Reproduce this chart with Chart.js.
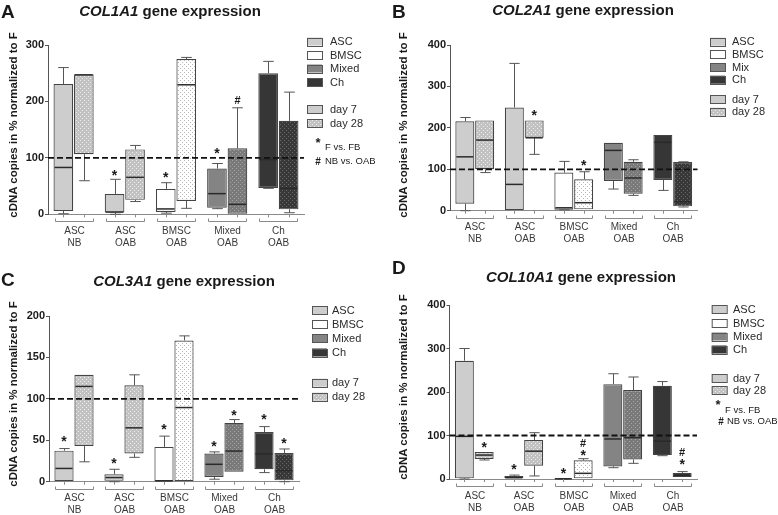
<!DOCTYPE html>
<html>
<head>
<meta charset="utf-8">
<script src="https://cdn.jsdelivr.net/npm/chart.js@4.4.1/dist/chart.umd.min.js"></script>
<style>
html, body { margin: 0; padding: 0; background: #fff; }
#fig { position: relative; width: 778px; height: 515px; overflow: hidden; font-family: "Liberation Sans", Arial, sans-serif; color: #1a1a1a; }
canvas { position: absolute; }
.letter { position: absolute; font-weight: bold; font-size: 19px; transform: translateY(-50%); }
.title { position: absolute; font-weight: bold; font-size: 15px; white-space: nowrap; transform: translate(-50%, -50%); }
.ytitle { position: absolute; font-weight: bold; font-size: 11.5px; white-space: nowrap; transform: translate(-50%, -50%) rotate(-90deg); }
</style>
</head>
<body>
<div id="fig">
  <canvas id="cA" width="389" height="257" style="left:0;top:0"></canvas>
  <canvas id="cB" width="389" height="257" style="left:389px;top:0"></canvas>
  <canvas id="cC" width="389" height="258" style="left:0;top:257px"></canvas>
  <canvas id="cD" width="389" height="258" style="left:389px;top:257px"></canvas>

  <div class="letter" style="left:1px;top:12px">A</div>
  <div class="title" style="left:170px;top:10px"><i>COL1A1</i> gene expression</div>
  <div class="ytitle" style="left:13px;top:125px">cDNA copies in % normalized to F</div>

  <div class="letter" style="left:392px;top:12px">B</div>
  <div class="title" style="left:583px;top:9px"><i>COL2A1</i> gene expression</div>
  <div class="ytitle" style="left:403px;top:125px">cDNA copies in % normalized to F</div>

  <div class="letter" style="left:1px;top:280px">C</div>
  <div class="title" style="left:184px;top:280px"><i>COL3A1</i> gene expression</div>
  <div class="ytitle" style="left:13px;top:394px">cDNA copies in % normalized to F</div>

  <div class="letter" style="left:392px;top:268px">D</div>
  <div class="title" style="left:581px;top:276px"><i>COL10A1</i> gene expression</div>
  <div class="ytitle" style="left:403px;top:387px">cDNA copies in % normalized to F</div>
</div>
<script>
// Gruppen unter der x-Achse
const groupTop = ['ASC', 'ASC', 'BMSC', 'Mixed', 'Ch'];
const groupBottom = ['NB', 'OAB', 'OAB', 'OAB', 'OAB'];
const cellNames = ['ASC', 'BMSC', 'Mixed', 'Ch'];
const cellNamesB = ['ASC', 'BMSC', 'Mix', 'Ch'];
const dayNames = ['day 7', 'day 28'];
const sigNames = ['F vs. FB', 'NB vs. OAB'];

// Boxplot-Werte je Gruppe: [min, q1, median, q3, max]
const col1_d7 = [[1, 6, 83, 231, 260], [0, 3, 4, 36, 62], [2, 4, 9.5, 45, 56], [10, 11.7, 36.6, 81, 90], [46, 46.7, 97, 250, 271]];
const col1_d28 = [[59.5, 106.5, 247, 248, 248], [22.6, 25.6, 65.5, 115, 122], [10.6, 23.6, 229.5, 275, 278], [0, 0, 17.7, 117, 188.7], [2.8, 8.8, 46, 165.6, 216.5]];
const col2_d7 = [[0, 17, 130, 216, 225], [0, 0, 63.5, 249, 355.6], [2, 2.4, 7, 92, 119], [52.3, 71.6, 145.6, 164, 164], [49, 74, 165, 183, 183]];
const col2_d28 = [[92, 100, 170.5, 218, 218], [136, 176, 176, 218, 218], [3.2, 3.2, 19.3, 76, 94], [37, 41, 79, 118, 123], [9, 10.5, 21.7, 117.5, 118]];
const col3_d7 = [[0, 0, 16, 37.5, 40], [0, 1, 5, 9, 15], [0, 0, 1, 42, 55], [3, 5.6, 21, 34, 36], [11, 15, 33.5, 60, 66.5]];
const col3_d28 = [[24, 43, 115, 129, 129], [29.4, 34, 65, 116.5, 129], [0, 0, 89.5, 170.5, 176], [12, 12, 37, 71, 75], [0, 1.6, 13.3, 34.7, 39.5]];
const col10_d7 = [[0, 1.5, 98, 272, 300], [1.5, 1.5, 3, 7, 9], [0, 0.3, 0.5, 1, 1], [26, 29, 92, 218, 242], [53.6, 55, 87, 214.5, 224]];
const col10_d28 = [[43.7, 46, 55, 62, 62], [7, 30.7, 64, 89.7, 106.5], [1.5, 1.5, 13, 43, 46.7], [36, 45, 95, 204.6, 234.5], [4.6, 4.6, 8.4, 14, 17]];

// Signifikanzzeichen: [Gruppe, Tag (0 = day 7, 1 = day 28), Zeichen, Höhe]
const col1_marks = [[1, 0, '*', 74], [2, 0, '*', 70], [3, 0, '*', 113], [3, 1, '#', 202]];
const col2_marks = [[1, 1, '*', 235], [2, 1, '*', 116]];
const col3_marks = [[0, 0, '*', 51], [1, 0, '*', 24.6], [2, 0, '*', 66], [3, 0, '*', 45.6], [3, 1, '*', 83.5], [4, 0, '*', 78.6], [4, 1, '*', 48.8]];
const col10_marks = [[0, 1, '*', 79], [1, 0, '*', 27], [2, 0, '*', 19], [2, 1, '*', 60.5], [2, 1, '#', 83.5], [4, 1, '*', 39], [4, 1, '#', 63]];

const FONT = '"Liberation Sans", Arial, sans-serif';
Chart.defaults.font.family = FONT;

// Punktmuster für day 28
function dots(base, dot) {
    const c = document.createElement('canvas');
    c.width = 4; c.height = 4;
    const g = c.getContext('2d');
    g.fillStyle = base;
    g.fillRect(0, 0, 4, 4);
    g.fillStyle = dot;
    g.fillRect(0, 0, 1, 1);
    g.fillRect(2, 2, 1, 1);
    return g.createPattern(c, 'repeat');
}

const solid = { ASC: '#cdcdcd', BMSC: '#ffffff', Mixed: '#848484', Ch: '#363636' };
const dotted = {
    ASC: dots('#c2c2c2', '#ececec'),
    BMSC: dots('#ffffff', '#b5b5b5'),
    Mixed: dots('#7a7a7a', '#a2a2a2'),
    Ch: dots('#383838', '#686868')
};
const fills7 = groupTop.map(g => solid[g]);
const fills28 = groupTop.map(g => dotted[g]);
const legendSolid = cellNames.map(n => solid[n]);
const legendDotted = cellNames.map(n => dotted[n]);

// Whisker, Median, 100%-Linie und Sternchen
const boxPlugin = {
    id: 'boxExtras',
    afterDatasetsDraw(chart) {
        const cfg = chart.options.plugins.boxExtras;
        const y = chart.scales.y;
        const ctx = chart.ctx;
        const area = chart.chartArea;
        ctx.save();
        cfg.stats.forEach((rows, di) => {
            const meta = chart.getDatasetMeta(di);
            rows.forEach((s, k) => {
                const el = meta.data[k];
                const x = Math.round(el.x) + 0.5;
                const hw = el.width / 2;
                const cap = el.width * 0.27;
                ctx.strokeStyle = '#555';
                ctx.lineWidth = 1;
                ctx.beginPath();
                if (s[4] > s[3]) {
                    const yt = y.getPixelForValue(s[4]);
                    ctx.moveTo(x, y.getPixelForValue(s[3]));
                    ctx.lineTo(x, yt);
                    ctx.moveTo(x - cap, yt);
                    ctx.lineTo(x + cap, yt);
                }
                if (s[0] < s[1]) {
                    const yb = y.getPixelForValue(s[0]);
                    ctx.moveTo(x, y.getPixelForValue(s[1]));
                    ctx.lineTo(x, yb);
                    ctx.moveTo(x - cap, yb);
                    ctx.lineTo(x + cap, yb);
                }
                ctx.stroke();
                const ym = y.getPixelForValue(s[2]);
                ctx.strokeStyle = '#2a2a2a';
                ctx.lineWidth = 1.5;
                ctx.beginPath();
                ctx.moveTo(el.x - hw + 1, ym);
                ctx.lineTo(el.x + hw - 1, ym);
                ctx.stroke();
            });
        });

        // gestrichelte Linie bei 100 %
        const y100 = y.getPixelForValue(100);
        ctx.strokeStyle = '#111';
        ctx.lineWidth = 1.8;
        ctx.setLineDash([6, 3]);
        ctx.beginPath();
        ctx.moveTo(area.left, y100);
        ctx.lineTo(area.right, y100);
        ctx.stroke();
        ctx.setLineDash([]);

        ctx.fillStyle = '#1a1a1a';
        ctx.textAlign = 'center';
        ctx.textBaseline = 'alphabetic';
        cfg.marks.forEach(m => {
            const el = chart.getDatasetMeta(m[1]).data[m[0]];
            const yp = y.getPixelForValue(m[3]);
            if (m[2] === '*') {
                ctx.font = 'bold 14px ' + FONT;
                ctx.fillText('*', el.x, yp + 7);
            } else {
                ctx.font = 'bold 11px ' + FONT;
                ctx.fillText('#', el.x, yp + 4);
            }
        });
        ctx.restore();
    },
    afterDraw(chart) {
        const cfg = chart.options.plugins.boxExtras;
        const ctx = chart.ctx;
        const xb = chart.chartArea.bottom;
        const m0 = chart.getDatasetMeta(0), m1 = chart.getDatasetMeta(1);
        ctx.save();
        ctx.strokeStyle = '#8a8a8a';
        ctx.lineWidth = 1;
        ctx.fillStyle = '#3a3a3a';
        ctx.font = '10px ' + FONT;
        ctx.textAlign = 'center';
        ctx.textBaseline = 'middle';
        for (let k = 0; k < groupTop.length; k++) {
            const a = m0.data[k], b = m1.data[k];
            const yb = Math.round(xb + 7) + 0.5;
            const l = Math.round(a.x - a.width / 2 + 1) + 0.5;
            const r = Math.round(b.x + b.width / 2 - 1) + 0.5;
            ctx.beginPath();
            [a, b].forEach(el => {
                const xx = Math.round(el.x) + 0.5;
                ctx.moveTo(xx, xb);
                ctx.lineTo(xx, xb + 3);
            });
            ctx.moveTo(l, yb - 3);
            ctx.lineTo(l, yb);
            ctx.lineTo(r, yb);
            ctx.lineTo(r, yb - 3);
            ctx.stroke();
            ctx.fillText(groupTop[k], (l + r) / 2, xb + 17);
            ctx.fillText(groupBottom[k], (l + r) / 2, xb + 29);
        }

        // Legende
        const lg = cfg.legend;
        const drawBox = (y, fill) => {
            ctx.fillStyle = fill;
            ctx.fillRect(lg.box, y - 4, 15, 8);
            ctx.strokeStyle = '#555';
            ctx.strokeRect(lg.box + 0.5, Math.round(y - 4) + 0.5, 15, 8);
        };
        ctx.textAlign = 'left';
        ctx.font = '11px ' + FONT;
        lg.names.forEach((n, i) => {
            drawBox(lg.rows[i], legendSolid[i]);
            ctx.fillStyle = '#2a2a2a';
            ctx.fillText(n, lg.text, lg.rows[i] + 0.5);
        });
        dayNames.forEach((n, i) => {
            drawBox(lg.days[i], i === 0 ? legendSolid[0] : legendDotted[0]);
            ctx.fillStyle = '#2a2a2a';
            ctx.fillText(n, lg.text, lg.days[i] + 0.5);
        });
        if (lg.sig) {
            const s = lg.sig;
            ctx.fillStyle = '#1a1a1a';
            ctx.textAlign = 'center';
            ctx.font = 'bold 13px ' + FONT;
            ctx.textBaseline = 'alphabetic';
            ctx.fillText('*', s.star[0], s.star[1] + 6);
            ctx.font = 'bold 10px ' + FONT;
            ctx.fillText('#', s.hash[0], s.hash[1] + 3.5);
            ctx.textAlign = 'left';
            ctx.textBaseline = 'middle';
            ctx.font = '9.5px ' + FONT;
            ctx.fillText(sigNames[0], s.starText[0], s.starText[1]);
            ctx.fillText(sigNames[1], s.hashText[0], s.hashText[1]);
        }
        ctx.restore();
    }
};

const panels = [
    { id: 'cA', yw: 48, pad: { top: 45, right: 85, bottom: 42.7 }, max: 300, step: 100,
      d7: col1_d7, d28: col1_d28, marks: col1_marks,
      legend: { box: 307, text: 330, rows: [41.5, 55, 68.5, 82], days: [109, 123], names: cellNames,
                sig: { star: [318, 141], starText: [325, 147], hash: [318, 161], hashText: [325, 161] } } },
    { id: 'cB', yw: 61, pad: { top: 45, right: 80.5, bottom: 46.3 }, max: 400, step: 100,
      d7: col2_d7, d28: col2_d28, marks: col2_marks,
      legend: { box: 321, text: 343, rows: [41.7, 54.3, 67, 79.7], days: [99, 111.7], names: cellNamesB, sig: null } },
    { id: 'cC', yw: 49, pad: { top: 59, right: 90, bottom: 33.3 }, max: 200, step: 50,
      d7: col3_d7, d28: col3_d28, marks: col3_marks,
      legend: { box: 312, text: 332, rows: [53, 67, 81.3, 95.5], days: [125.7, 139.7], names: cellNames, sig: null } },
    { id: 'cD', yw: 60.5, pad: { top: 48, right: 81, bottom: 36 }, max: 400, step: 100,
      d7: col10_d7, d28: col10_d28, marks: col10_marks,
      legend: { box: 322.7, text: 344, rows: [52.3, 66, 79.5, 92.5], days: [121, 133], names: cellNames,
                sig: { star: [329, 146], starText: [336, 153], hash: [332, 164.5], hashText: [338, 164.5] } } }
];

panels.forEach(p => {
    const ctx = document.getElementById(p.id).getContext('2d');
    new Chart(ctx, {
        type: 'bar',
        data: {
            labels: groupTop.map((t, i) => t + ' ' + groupBottom[i]),
            datasets: [
                {
                    label: dayNames[0],
                    data: p.d7.map(s => [s[1], s[3]]),
                    backgroundColor: fills7,
                    borderColor: '#444',
                    borderWidth: 1.2,
                    borderSkipped: false,
                    categoryPercentage: 0.8,
                    barPercentage: 0.96
                },
                {
                    label: dayNames[1],
                    data: p.d28.map(s => [s[1], s[3]]),
                    backgroundColor: fills28,
                    borderColor: '#444',
                    borderWidth: 1.2,
                    borderSkipped: false,
                    categoryPercentage: 0.8,
                    barPercentage: 0.96
                }
            ]
        },
        options: {
            responsive: false,
            animation: false,
            devicePixelRatio: 1,
            layout: { padding: { left: 0, top: p.pad.top, right: p.pad.right, bottom: p.pad.bottom } },
            scales: {
                x: {
                    grid: { display: false, drawTicks: false },
                    border: { color: '#8a8a8a', width: 1 },
                    ticks: { display: false },
                    afterFit: s => { s.height = 0; }
                },
                y: {
                    min: 0,
                    max: p.max,
                    ticks: { stepSize: p.step, color: '#1a1a1a', padding: 1, font: { size: 11, weight: 'bold' } },
                    grid: { display: true, drawOnChartArea: false, drawTicks: true, tickLength: 3, color: '#555' },
                    border: { color: '#555', width: 1 },
                    afterFit: s => { s.width = p.yw; }
                }
            },
            plugins: {
                legend: { display: false },
                tooltip: { enabled: false },
                boxExtras: { stats: [p.d7, p.d28], marks: p.marks, legend: p.legend }
            }
        },
        plugins: [boxPlugin]
    });
});
</script>
</body>
</html>
